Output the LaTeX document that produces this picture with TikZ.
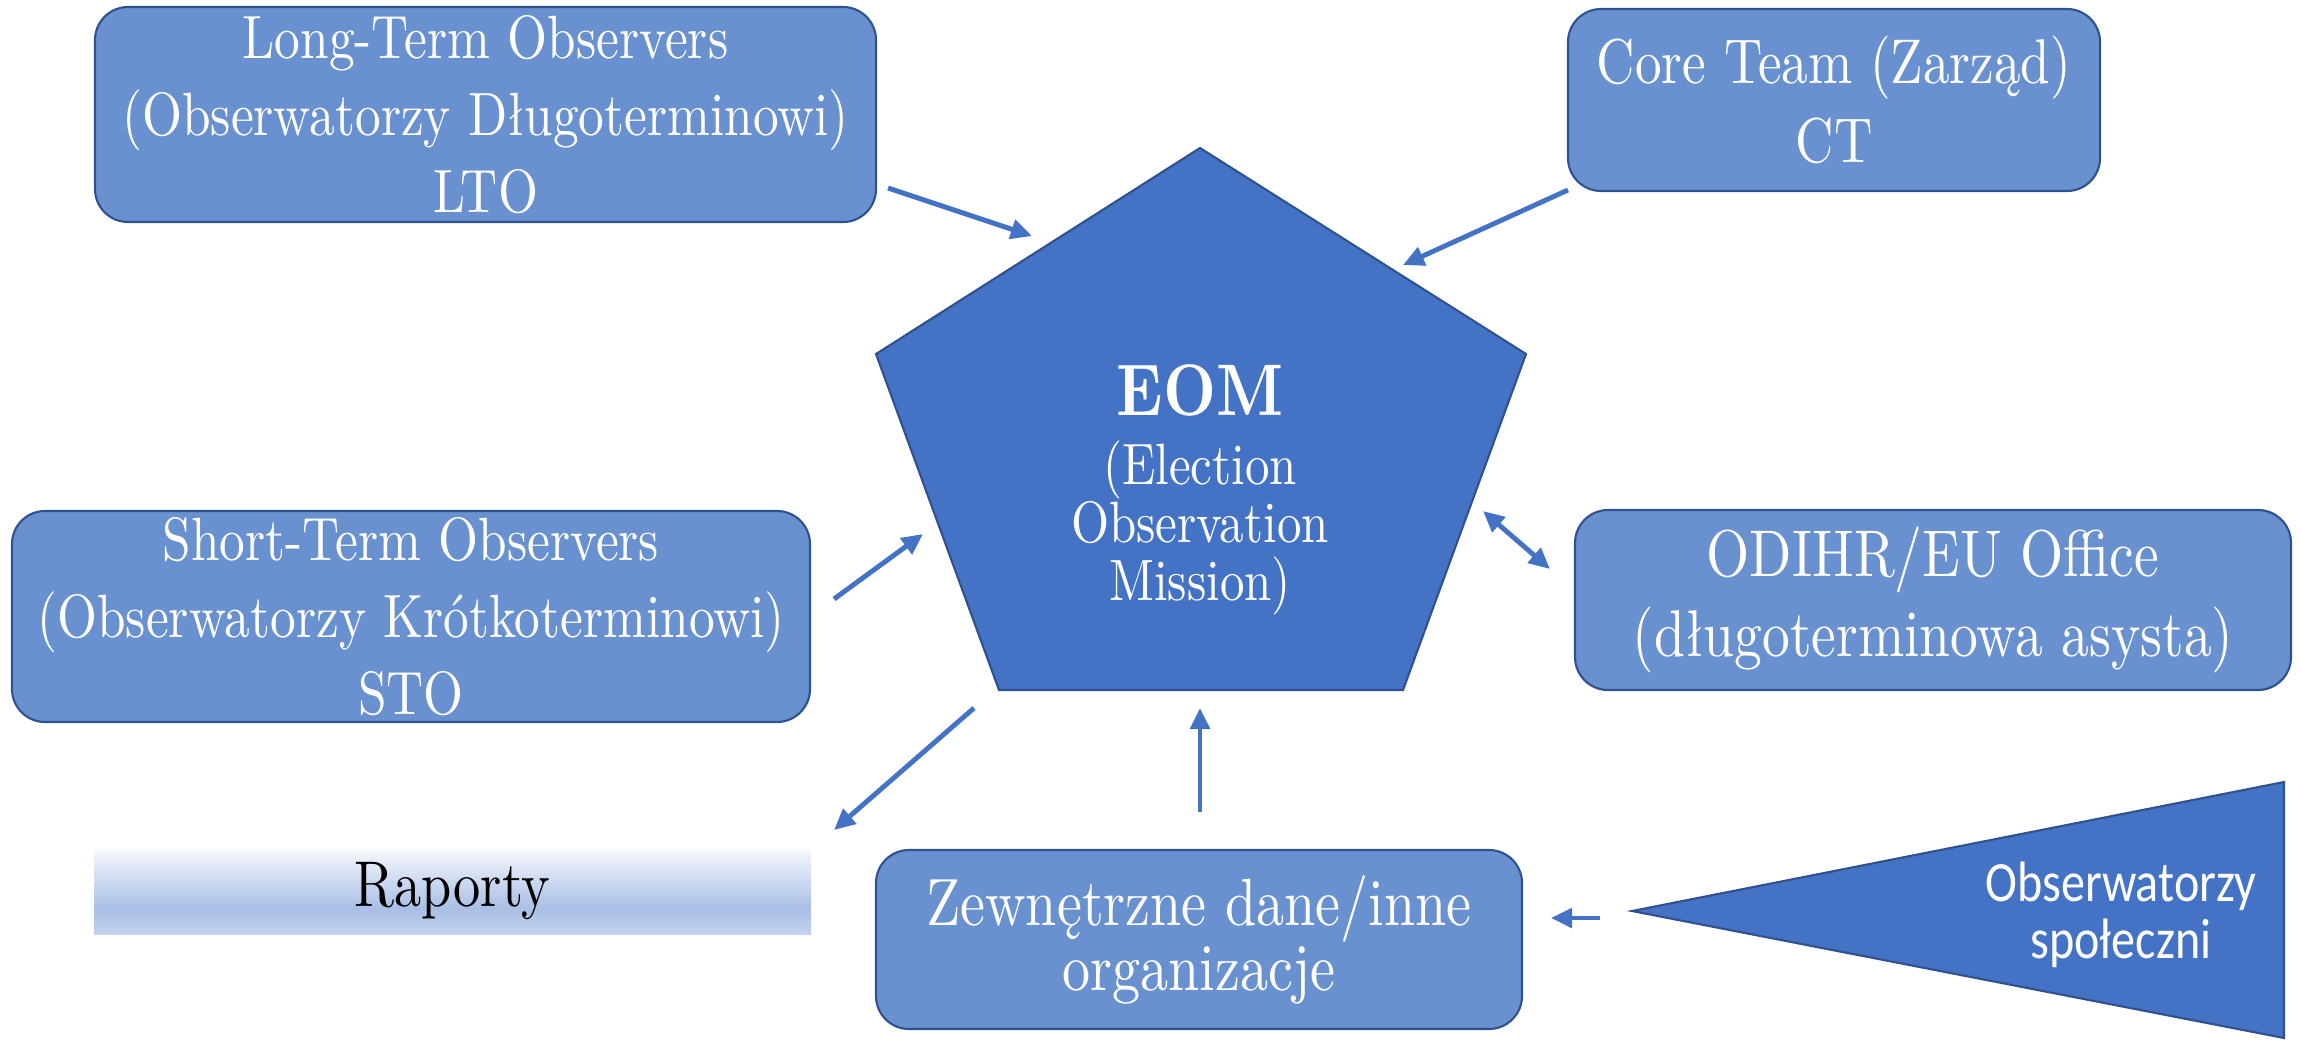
\documentclass[tikz,border=0pt]{standalone}
\usepackage{fontspec}
\setmainfont{lmroman10-regular.otf}[BoldFont=lmroman10-bold.otf,FakeStretch=0.84]
\newfontfamily\calibri{Carlito}[FakeStretch=0.845]
\usetikzlibrary{arrows.meta}
\definecolor{bleu}{HTML}{4472C4}
\definecolor{bleuclair}{HTML}{6990CF}
\definecolor{bleufonce}{HTML}{2F528F}
\definecolor{raphaut}{HTML}{F6F8FC}
\definecolor{rapfonce}{HTML}{A9BFE6}
\definecolor{rapbas}{HTML}{C3D2EE}
\pgfdeclareverticalshading{raport}{100bp}{color(0bp)=(rapbas); color(25bp)=(rapbas); color(40bp)=(rapfonce); color(75bp)=(raphaut); color(100bp)=(raphaut)}
\begin{document}
\begin{tikzpicture}
		\tikzstyle{fleche}=[bleu,line width=1.4pt,>={Triangle[length=6pt,width=5.5pt]},->]
		\tikzstyle{boite}=[draw=bleufonce,line width=0.6pt,fill=bleuclair,rounded corners=0.33cm,text=white,align=center,inner sep=0pt]
		\tikzstyle{forme}=[draw=bleufonce,line width=0.6pt,fill=bleu]
		\useasboundingbox (0,0) rectangle (23.01,-10.39);
		% pentagone et triangle
		\coordinate (P1) at (12.00,-1.48) ;
		\coordinate (P2) at (15.26,-3.54) ;
		\coordinate (P3) at (14.03,-6.90) ;
		\coordinate (P4) at (9.99,-6.90) ;
		\coordinate (P5) at (8.76,-3.54) ;
		\filldraw[forme] (P1)--(P2)--(P3)--(P4)--(P5)--cycle;
		\coordinate (T1) at (16.32,-9.11) ;
		\coordinate (T2) at (22.84,-7.82) ;
		\coordinate (T3) at (22.84,-10.38) ;
		\filldraw[forme] (T1)--(T2)--(T3)--cycle;
		% noeuds
		\node[text=white,align=center,font=\fontsize{16.6}{16.5}\selectfont] (eom) at (12.00,-4.90) {{\fontsize{20.8}{20}\selectfont\bfseries EOM}\\[3pt](Election\\Observation\\Mission)};
		\node[boite,minimum width=7.81cm,minimum height=2.15cm,font=\fontsize{17.4}{21.9}\selectfont] (lto) at (4.855,-1.145) {Long-Term Observers\\(Obserwatorzy Długoterminowi)\\LTO};
		\node[boite,minimum width=5.32cm,minimum height=1.82cm,font=\fontsize{18}{22.5}\selectfont] (ct) at (18.34,-1.00) {Core Team (Zarząd)\\CT};
		\node[boite,minimum width=7.98cm,minimum height=2.11cm,font=\fontsize{17.4}{21.9}\selectfont] (sto) at (4.11,-6.165) {Short-Term Observers\\(Obserwatorzy Krótkoterminowi)\\STO};
		\node[boite,minimum width=7.16cm,minimum height=1.80cm,font=\fontsize{18.8}{22.5}\selectfont] (odihr) at (19.33,-6.00) {ODIHR/EU Office\\(długoterminowa asysta)};
		\node[boite,minimum width=6.46cm,minimum height=1.79cm,font=\fontsize{19}{18.5}\selectfont] (zewn) at (11.99,-9.395) {Zewnętrzne dane/inne\\organizacje};
		\node[shading=raport,minimum width=7.17cm,minimum height=0.85cm,inner sep=0pt,font=\fontsize{18.4}{18}\selectfont] (raporty) at (4.525,-8.915) {Raporty};
		\node[text=white,align=center,font=\calibri\fontsize{16.2}{16.3}\selectfont] (obs) at (21.21,-9.15) {Obserwatorzy\\społeczni};
		% fleches
		\coordinate (A1) at (8.88,-1.88) ;
		\coordinate (B1) at (10.32,-2.36) ;
		\coordinate (A2) at (15.68,-1.90) ;
		\coordinate (B2) at (14.03,-2.65) ;
		\coordinate (A3) at (8.34,-5.99) ;
		\coordinate (B3) at (9.23,-5.34) ;
		\coordinate (A4) at (14.83,-5.11) ;
		\coordinate (B4) at (15.50,-5.69) ;
		\coordinate (A5) at (9.74,-7.08) ;
		\coordinate (B5) at (8.34,-8.30) ;
		\coordinate (A6) at (12.00,-8.12) ;
		\coordinate (B6) at (12.00,-7.08) ;
		\coordinate (A7) at (16.00,-9.18) ;
		\coordinate (B7) at (15.51,-9.18) ;
		\draw[fleche] (A1)--(B1);
		\draw[fleche] (A2)--(B2);
		\draw[fleche] (A3)--(B3);
		\draw[fleche,<->] (A4)--(B4);
		\draw[fleche] (A5)--(B5);
		\draw[fleche] (A6)--(B6);
		\draw[fleche] (A7)--(B7);
	\end{tikzpicture}
\end{document}
